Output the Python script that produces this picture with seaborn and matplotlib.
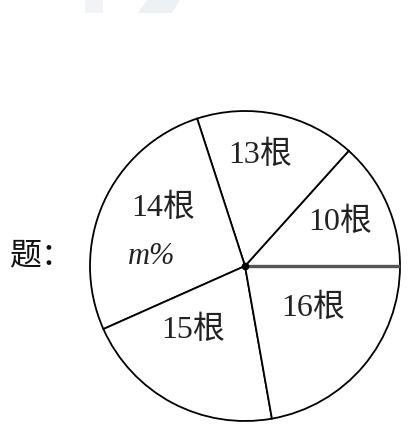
import matplotlib.pyplot as plt
import seaborn as sns
from matplotlib.patches import Polygon

# pie data (sector angles in degrees, counter-clockwise from 3 o'clock)
labels = ['10根', '13根', '14根', '15根', '16根']
degrees = [48, 60, 96, 76, 80]
label_pos = [(340, 222), (260, 155), (163, 208), (193, 330), (313, 308)]

W, H = 417, 437
cx, cy, r = 245, 266, 155

sns.set_theme(style="white")
plt.rcParams['font.family'] = ['Liberation Serif', 'Noto Sans CJK SC']

fig = plt.figure(figsize=(W / 100, H / 100), dpi=100)
ax = fig.add_axes([0, 0, 1, 1])

ax.pie(degrees, startangle=0, counterclock=True, center=(cx, H - cy), radius=r,
       colors=['white'] * len(degrees), frame=True,
       wedgeprops=dict(edgecolor='black', linewidth=1.3))
# the 0-degree radius looks heavier and greyer in the original
ax.plot([cx, cx + r], [H - cy, H - cy], color='#555555', lw=2.4, solid_capstyle='butt')
ax.plot([cx], [H - cy], 'o', color='black', markersize=4.5)

for lab, (x, y) in zip(labels, label_pos):
    ax.text(x, H - y, lab, ha='center', va='center', fontsize=23, color='#222222')
ax.text(152, H - 257, 'm%', ha='center', va='center', fontsize=22,
        style='italic', color='#222222', family=['Liberation Serif'])
ax.text(42, H - 255, '题：', ha='center', va='center', fontsize=23,
        color='#111111', family=['Noto Sans CJK SC'])

# faint watermark at top
ax.add_patch(Polygon([(85, H), (103, H), (103, H - 13), (85, H - 13)],
                     closed=True, color='#f1f3f7', lw=0))
ax.add_patch(Polygon([(147, H), (180, H), (172, H - 13), (138, H - 13)],
                     closed=True, color='#edf0f5', lw=0))

ax.set_xlim(0, W)
ax.set_ylim(0, H)
ax.set_aspect('auto')
ax.axis('off')

fig.savefig('out.png', dpi=100, facecolor='white')
